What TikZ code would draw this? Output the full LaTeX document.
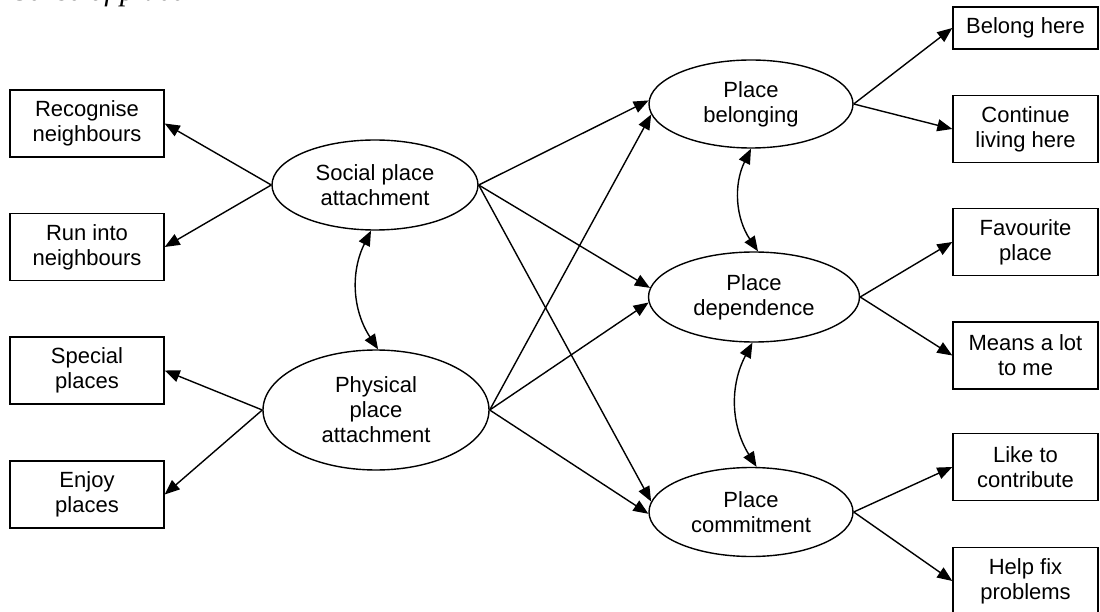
\documentclass[tikz,border=0pt]{standalone}
\usepackage{fontspec}
\setmainfont{Liberation Sans}
\newfontfamily\headfont{Liberation Serif}
\usetikzlibrary{arrows.meta}
\usetikzlibrary{shapes.geometric}

\begin{document}
\begin{tikzpicture}[x=1pt, y=-1pt,
    item/.style={draw, line width=1.4pt, align=center, inner sep=0pt,
      minimum width=154pt, minimum height=67pt,
      font=\fontsize{22}{25}\selectfont},
    ritem/.style={item, minimum width=145pt},
    factor/.style={draw, ellipse, line width=1.4pt, align=center, inner sep=0pt,
      font=\fontsize{22}{25}\selectfont},
    load/.style={line width=1.4pt, -{Triangle[length=15pt,width=12pt]}},
    cov/.style={line width=1.4pt,
      {Triangle[length=15pt,width=12pt]}-{Triangle[length=15pt,width=12pt]}}]
      \useasboundingbox (0, 0) rectangle (1100, 612);

      \node [anchor=base west, font=\headfont\fontsize{30}{30}\selectfont\itshape]
        (head) at (10, 0.5) {Sense of place};

      \node [item] (recog) at (87, 123.5) {Recognise\\neighbours};
      \node [item] (runinto) at (87, 247) {Run into\\neighbours};
      \node [item] (special) at (87, 370.5) {Special\\places};
      \node [item] (enjoy) at (87, 494.5) {Enjoy\\places};

      \node [factor, minimum width=206pt, minimum height=90pt] (social) at (375, 185) {Social place\\attachment};
      \node [factor, minimum width=226pt, minimum height=120pt] (physical) at (376, 410) {Physical\\place\\attachment};

      \node [factor, minimum width=204pt, minimum height=88pt] (belonging) at (751, 104) {Place\\belonging};
      \node [factor, minimum width=211pt, minimum height=90pt] (dependence) at (754, 297) {Place\\dependence};
      \node [factor, minimum width=204pt, minimum height=89pt] (commitment) at (751, 512) {Place\\commitment};

      \node [ritem, minimum height=42pt] (belong) at (1025.5, 28) {Belong here};
      \node [ritem] (continue) at (1025.5, 129) {Continue\\living here};
      \node [ritem] (favourite) at (1025.5, 242) {Favourite\\place};
      \node [ritem] (means) at (1025.5, 355.5) {Means a lot\\to me};
      \node [ritem] (like) at (1025.5, 467) {Like to\\contribute};
      \node [ritem] (help) at (1025.5, 581) {Help fix\\problems};

      \draw [load] (social.west) -- (recog.east);
      \draw [load] (social.west) -- (runinto.east);
      \draw [load] (physical.west) -- (special.east);
      \draw [load] (physical.west) -- (enjoy.east);

      \draw [load] (social.east) -- (belonging.178);
      \draw [load] (social.east) -- (dependence.175);
      \draw [load] (social.east) -- (commitment.174);
      \draw [load] (physical.east) -- (belonging.186);
      \draw [load] (physical.east) -- (dependence.183);
      \draw [load] (physical.east) -- (commitment.181);

      \draw [load] (belonging.east) -- (belong.west);
      \draw [load] (belonging.east) -- (continue.west);
      \draw [load] (dependence.east) -- (favourite.west);
      \draw [load] (dependence.east) -- (means.west);
      \draw [load] (commitment.east) -- (like.west);
      \draw [load] (commitment.east) -- (help.west);

      \draw [cov] (social.265) to [bend right=30] (physical.88);
      \draw [cov] (belonging.270) to [bend right=30] (dependence.85);
      \draw [cov] (dependence.268) to [bend right=30] (commitment.83);
    \end{tikzpicture}
\end{document}
